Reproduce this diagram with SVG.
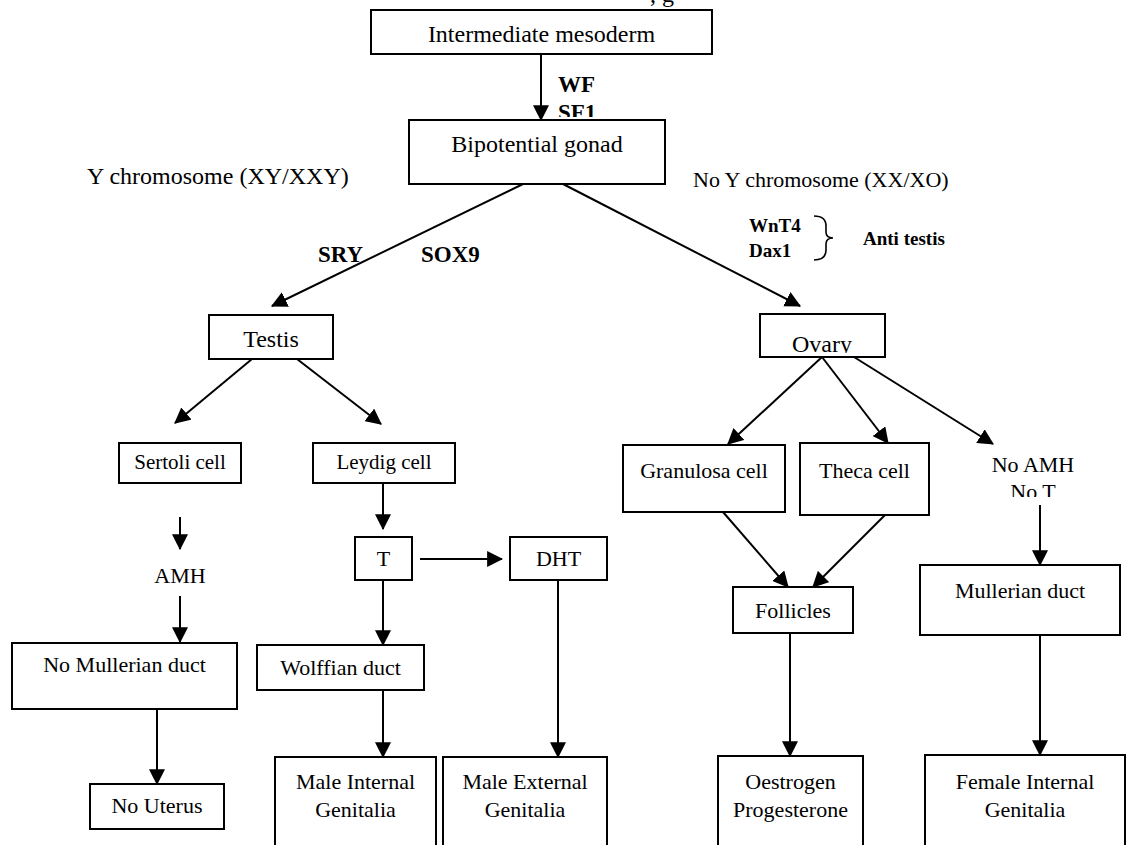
<svg xmlns="http://www.w3.org/2000/svg" width="1129" height="845" viewBox="0 0 1129 845">
<style>
.box{fill:#fff;stroke:#000;stroke-width:2}
.t{font-family:"Liberation Serif","Times New Roman",serif;font-size:22px;fill:#000;text-anchor:middle}
.l{text-anchor:start}
.b{font-weight:bold}
.big{font-size:24px}
.sm{font-size:21px}
.c{stroke:#000;stroke-width:2;fill:none;marker-end:url(#ah)}
</style>
<defs>
<marker id="ah" markerUnits="userSpaceOnUse" markerWidth="16" markerHeight="16" viewBox="0 0 14 14" refX="13" refY="7" orient="auto"><path d="M0,0 L14,7 L0,14 z" fill="#000"/></marker>
<clipPath id="clipSF"><rect x="540" y="60" width="100" height="57"/></clipPath>
<clipPath id="clipOv"><rect x="760" y="314" width="125" height="39"/></clipPath>
<clipPath id="clipNoT"><rect x="980" y="450" width="110" height="47"/></clipPath>
</defs>

<text class="t big l" x="650" y="2">, g</text>

<g id="labels">
<text class="t b l" x="558" y="92" style="font-size:23px">WF</text>
<text class="t b l" x="558" y="120" style="font-size:23px" clip-path="url(#clipSF)">SF1</text>
<text class="t big l" x="87" y="184">Y chromosome (XY/XXY)</text>
<text class="t l" x="693" y="187">No Y chromosome (XX/XO)</text>
<text class="t b l" x="318" y="262" style="font-size:23px">SRY</text>
<text class="t b l" x="421" y="262" style="font-size:23px">SOX9</text>
<text class="t b l" x="749" y="232" style="font-size:19px">WnT4</text>
<text class="t b l" x="749" y="257" style="font-size:19px">Dax1</text>
<path d="M814,216 Q826,216 826,226 L826,232 Q826,238 833,238 Q826,238 826,244 L826,250 Q826,260 814,260" fill="none" stroke="#000" stroke-width="1.6"/>
<text class="t b l" x="863" y="245" style="font-size:19px">Anti testis</text>
</g>

<g id="connectors">
<line class="c" x1="541" y1="54" x2="541" y2="120"/>
<line class="c" x1="523" y1="184" x2="272" y2="306"/>
<line class="c" x1="563" y1="184" x2="800" y2="306"/>
<line class="c" x1="252" y1="359" x2="175" y2="423"/>
<line class="c" x1="297" y1="359" x2="381" y2="424"/>
<line class="c" x1="822" y1="357" x2="728" y2="444"/>
<line class="c" x1="822" y1="357" x2="888" y2="443"/>
<line class="c" x1="854" y1="357" x2="993" y2="444"/>
<line class="c" x1="180" y1="517" x2="180" y2="549"/>
<line class="c" x1="383" y1="483" x2="383" y2="529"/>
<line class="c" x1="180" y1="596" x2="180" y2="642"/>
<line class="c" x1="420" y1="559" x2="502" y2="559"/>
<line class="c" x1="383" y1="580" x2="383" y2="645"/>
<line class="c" x1="157" y1="709" x2="157" y2="784"/>
<line class="c" x1="383" y1="690" x2="383" y2="757"/>
<line class="c" x1="558" y1="580" x2="558" y2="757"/>
<line class="c" x1="723" y1="512" x2="788" y2="587"/>
<line class="c" x1="885" y1="515" x2="813" y2="587"/>
<line class="c" x1="790" y1="633" x2="790" y2="756"/>
<line class="c" x1="1040" y1="505" x2="1040" y2="565"/>
<line class="c" x1="1040" y1="635" x2="1040" y2="755"/>
</g>

<g id="n-intermediate">
<rect class="box" x="371" y="10" width="341" height="44"/>
<text class="t big" x="541.5" y="42">Intermediate mesoderm</text>
</g>
<g id="n-bipotential">
<rect class="box" x="409" y="120" width="256" height="64"/>
<text class="t big" x="537" y="152">Bipotential gonad</text>
</g>
<g id="n-testis">
<rect class="box" x="209" y="315" width="124" height="44"/>
<text class="t big" x="271" y="347">Testis</text>
</g>
<g id="n-ovary">
<rect class="box" x="760" y="314" width="125" height="43"/>
<text class="t big" x="822" y="352" clip-path="url(#clipOv)">Ovary</text>
</g>
<g id="n-sertoli">
<rect class="box" x="119" y="443" width="122" height="40"/>
<text class="t sm" x="180" y="469">Sertoli cell</text>
</g>
<g id="n-leydig">
<rect class="box" x="313" y="443" width="142" height="40"/>
<text class="t sm" x="384" y="469">Leydig cell</text>
</g>
<g id="n-granulosa">
<rect class="box" x="623" y="445" width="162" height="67"/>
<text class="t" x="704" y="478">Granulosa cell</text>
</g>
<g id="n-theca">
<rect class="box" x="800" y="443" width="129" height="72"/>
<text class="t" x="864.5" y="478">Theca cell</text>
</g>
<g id="n-noamh">
<text class="t" x="1033" y="472">No AMH</text>
<text class="t" x="1033" y="499" clip-path="url(#clipNoT)">No T</text>
</g>
<g id="n-amh">
<text class="t" x="180" y="583">AMH</text>
</g>
<g id="n-t">
<rect class="box" x="355" y="537" width="57" height="43"/>
<text class="t" x="383.5" y="566">T</text>
</g>
<g id="n-dht">
<rect class="box" x="510" y="537" width="97" height="43"/>
<text class="t" x="558.5" y="566">DHT</text>
</g>
<g id="n-mullerian">
<rect class="box" x="920" y="565" width="200" height="70"/>
<text class="t" x="1020" y="598">Mullerian duct</text>
</g>
<g id="n-follicles">
<rect class="box" x="733" y="587" width="120" height="46"/>
<text class="t" x="793" y="618">Follicles</text>
</g>
<g id="n-nomullerian">
<rect class="box" x="12" y="643" width="225" height="66"/>
<text class="t" x="124.5" y="672">No Mullerian duct</text>
</g>
<g id="n-wolffian">
<rect class="box" x="257" y="645" width="167" height="45"/>
<text class="t" x="340.5" y="675">Wolffian duct</text>
</g>
<g id="n-nouterus">
<rect class="box" x="90" y="784" width="134" height="45"/>
<text class="t" x="157" y="813">No Uterus</text>
</g>
<g id="n-maleint">
<rect class="box" x="275" y="757" width="161" height="100"/>
<text class="t" x="355.5" y="789">Male Internal</text>
<text class="t" x="355.5" y="817">Genitalia</text>
</g>
<g id="n-maleext">
<rect class="box" x="443" y="757" width="164" height="100"/>
<text class="t" x="525" y="789">Male External</text>
<text class="t" x="525" y="817">Genitalia</text>
</g>
<g id="n-oestrogen">
<rect class="box" x="718" y="756" width="145" height="100"/>
<text class="t" x="790.5" y="789">Oestrogen</text>
<text class="t" x="790.5" y="817">Progesterone</text>
</g>
<g id="n-female">
<rect class="box" x="925" y="755" width="200" height="100"/>
<text class="t" x="1025" y="789">Female Internal</text>
<text class="t" x="1025" y="817">Genitalia</text>
</g>
</svg>
